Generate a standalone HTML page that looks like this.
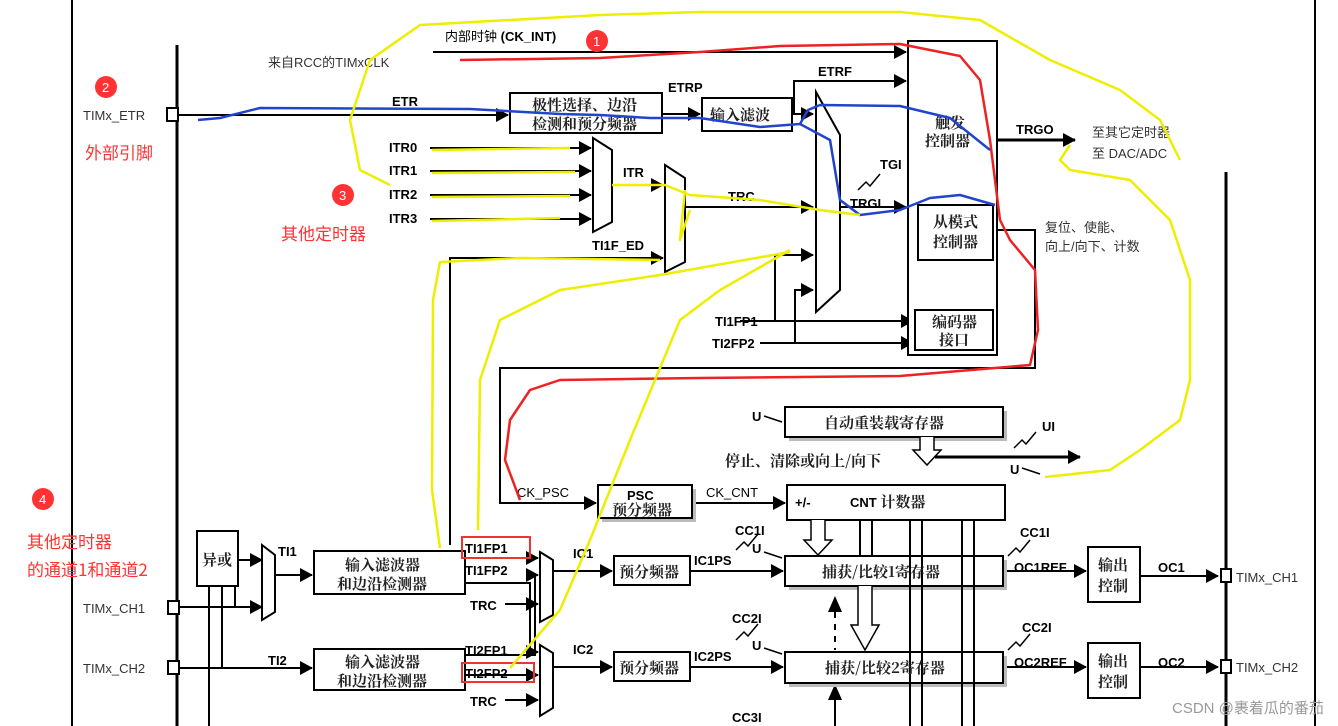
<!DOCTYPE html>
<html><head><meta charset="utf-8"><style>
html,body{margin:0;padding:0;background:#fff;}
svg{display:block;font-family:"Liberation Sans","Noto Sans CJK SC",sans-serif;}
.b{font-weight:bold;font-size:13px;}
.n{font-size:13px;}
.c{font-family:"Noto Serif CJK SC","Noto Sans CJK SC",serif;font-size:15px;font-weight:bold;fill:#222;}
.r{fill:#f33;font-family:"Noto Sans CJK SC",sans-serif;font-size:17px;}
</style></head><body>
<svg width="1338" height="726" viewBox="0 0 1338 726" xmlns="http://www.w3.org/2000/svg">
<defs>
<marker id="a" markerWidth="14" markerHeight="14" refX="12" refY="7" orient="auto" markerUnits="userSpaceOnUse"><path d="M0,0 L13,7 L0,14 z" fill="#000"/></marker>
</defs>
<g stroke="#000" fill="none">
<line x1="72" y1="0" x2="72" y2="726" stroke-width="2"/>
<line x1="177" y1="45" x2="177" y2="726" stroke-width="3"/>
<line x1="1226" y1="172" x2="1226" y2="726" stroke-width="3"/>
<line x1="1315" y1="0" x2="1315" y2="726" stroke-width="2"/>
<g stroke-width="2">
<line x1="433" y1="52" x2="906" y2="52" marker-end="url(#a)"/>
<line x1="178" y1="115" x2="508" y2="115" marker-end="url(#a)"/>
<line x1="662" y1="114" x2="700" y2="114" marker-end="url(#a)"/>
<polyline points="792,114 794,114 794,81 906,81" marker-end="url(#a)"/>
<line x1="794" y1="114" x2="813" y2="114" marker-end="url(#a)"/>
<line x1="430" y1="148" x2="591" y2="148" marker-end="url(#a)"/>
<line x1="430" y1="171" x2="591" y2="171" marker-end="url(#a)"/>
<line x1="430" y1="195" x2="591" y2="195" marker-end="url(#a)"/>
<line x1="430" y1="219" x2="591" y2="219" marker-end="url(#a)"/>
<line x1="612" y1="185" x2="663" y2="185" marker-end="url(#a)"/>
<polyline points="450,545 450,258 663,258" marker-end="url(#a)"/>
<line x1="685" y1="207" x2="813" y2="207" marker-end="url(#a)"/>
<line x1="838" y1="207" x2="906" y2="207" marker-end="url(#a)"/>
<polyline points="775,321 775,255 813,255" marker-end="url(#a)"/>
<polyline points="795,343 795,290 813,290" marker-end="url(#a)"/>
<line x1="740" y1="321" x2="913" y2="321" marker-end="url(#a)"/>
<line x1="760" y1="343" x2="913" y2="343" marker-end="url(#a)"/>
<line x1="997" y1="140" x2="1075" y2="140" marker-end="url(#a)" stroke-width="3"/>
<polyline points="993,230 1035,230 1035,368 500,368 500,503 596,503" marker-end="url(#a)"/>
<line x1="692" y1="503" x2="785" y2="503" marker-end="url(#a)"/>
<line x1="935" y1="457" x2="1080" y2="457" marker-end="url(#a)" stroke-width="3"/>
<polyline points="238,560 262,560" marker-end="url(#a)"/>
<line x1="178" y1="607" x2="262" y2="607" marker-end="url(#a)"/>
<line x1="178" y1="668" x2="312" y2="668" marker-end="url(#a)"/>
<line x1="209" y1="586" x2="209" y2="726"/><line x1="222" y1="586" x2="222" y2="668"/><line x1="235" y1="586" x2="235" y2="607"/>
<line x1="275" y1="575" x2="312" y2="575" marker-end="url(#a)"/>
<line x1="465" y1="558" x2="538" y2="558" marker-end="url(#a)"/>
<polyline points="465,583 530,583 530,652 538,652" marker-end="url(#a)"/>
<polyline points="505,604 538,604" marker-end="url(#a)"/>
<polyline points="465,655 535,655 535,575 538,575" marker-end="url(#a)"/>
<line x1="465" y1="675" x2="538" y2="675" marker-end="url(#a)"/>
<line x1="505" y1="700" x2="538" y2="700" marker-end="url(#a)"/>
<line x1="553" y1="571" x2="612" y2="571" marker-end="url(#a)"/>
<line x1="553" y1="667" x2="612" y2="667" marker-end="url(#a)"/>
<line x1="690" y1="571" x2="783" y2="571" marker-end="url(#a)"/>
<line x1="690" y1="667" x2="783" y2="667" marker-end="url(#a)"/>
<line x1="1003" y1="571" x2="1086" y2="571" marker-end="url(#a)"/>
<line x1="1003" y1="667" x2="1086" y2="667" marker-end="url(#a)"/>
<line x1="1140" y1="576" x2="1218" y2="576" marker-end="url(#a)"/>
<line x1="1140" y1="667" x2="1218" y2="667" marker-end="url(#a)"/>
<line x1="835" y1="612" x2="835" y2="650" stroke-dasharray="6,6"/>
<line x1="835" y1="726" x2="835" y2="700"/>
</g>
<g fill="#000" stroke="none">
<path d="M828,612 L835,596 L842,612 z"/><path d="M828,700 L835,684 L842,700 z"/>
</g>
<g stroke-width="2" fill="#fff">
<rect x="510" y="93" width="152" height="40"/>
<rect x="702" y="98" width="90" height="33"/>
<polygon points="816,92 840,135 840,290 816,312"/>
<polygon points="593,138 612,150 612,222 593,232"/>
<polygon points="665,165 685,178 685,262 665,272"/>
<rect x="908" y="41" width="89" height="314"/>
<rect x="918" y="205" width="75" height="55"/>
<rect x="915" y="310" width="78" height="40"/>
<rect x="167" y="108" width="11" height="13"/>
<rect x="168" y="601" width="11" height="13"/>
<rect x="168" y="661" width="11" height="13"/>
<rect x="1221" y="569" width="10" height="13"/>
<rect x="1221" y="660" width="10" height="13"/>
<rect x="197" y="531" width="41" height="55"/>
<polygon points="262,545 275,555 275,612 262,620"/>
<polygon points="540,552 553,560 553,615 540,622"/>
<polygon points="540,645 553,653 553,708 540,716"/>
<rect x="314" y="551" width="151" height="43"/>
<rect x="314" y="649" width="151" height="41"/>
<rect x="1088" y="547" width="52" height="55"/>
<rect x="1088" y="643" width="52" height="55"/>
<rect x="614" y="556" width="76" height="29"/>
<rect x="614" y="652" width="76" height="29"/>
</g>
<g fill="#bbb" stroke="none">
<rect x="789" y="411" width="218" height="30"/><rect x="602" y="489" width="94" height="33"/>
<rect x="789" y="560" width="218" height="30"/><rect x="789" y="656" width="218" height="31"/>
</g>
<g stroke-width="2" fill="#fff">
<rect x="785" y="407" width="218" height="30"/>
<rect x="787" y="485" width="218" height="35"/>
<rect x="598" y="485" width="94" height="33"/>
<rect x="785" y="556" width="218" height="30"/>
<rect x="785" y="652" width="218" height="31"/>
<path d="M920,437 V450 H913 L927,465 L941,450 H934 V437" stroke-width="1.5"/>
<path d="M811,520 V540 H804 L818,555 L832,540 H825 V520" stroke-width="1.5"/>
<path d="M858,586 V625 H851 L865,650 L879,625 H872 V586" stroke-width="1.5"/>
</g>
<g stroke-width="2">
<line x1="860" y1="520" x2="860" y2="556"/><line x1="872" y1="520" x2="872" y2="556"/>
<line x1="910" y1="520" x2="910" y2="726"/><line x1="922" y1="520" x2="922" y2="726"/>
<line x1="962" y1="520" x2="962" y2="726"/><line x1="974" y1="520" x2="974" y2="726"/>
</g>
<g stroke-width="1.5">
<polyline points="858,190 866,182 870,186 880,174"/>
<polyline points="1014,448 1022,440 1026,444 1036,432"/>
<polyline points="736,550 744,542 748,546 758,534"/>
<polyline points="736,640 744,632 748,636 758,624"/>
<polyline points="1008,556 1016,548 1020,552 1030,540"/>
<polyline points="1008,650 1016,642 1020,646 1030,634"/>
<line x1="764" y1="416" x2="782" y2="422"/><line x1="764" y1="552" x2="782" y2="558"/><line x1="764" y1="648" x2="782" y2="654"/><line x1="1022" y1="468" x2="1040" y2="474"/>
</g>
<rect x="462" y="537" width="68" height="21" stroke="#e33" stroke-width="2"/>
<rect x="462" y="663" width="72" height="19" stroke="#e33" stroke-width="2"/>
</g>
<g fill="#000">
<text x="445" y="41" class="n">内部时钟 <tspan class="b">(CK_INT)</tspan></text>
<text x="268" y="67" class="n" fill="#333">来自RCC的TIMxCLK</text>
<text x="83" y="120" class="n" fill="#333">TIMx_ETR</text>
<text x="392" y="106" class="b" font-size="12">ETR</text>
<text x="532" y="110" class="c">极性选择、边沿</text>
<text x="532" y="129" class="c">检测和预分频器</text>
<text x="668" y="92" class="b" font-size="12">ETRP</text>
<text x="710" y="120" class="c">输入滤波</text>
<text x="818" y="76" class="b" font-size="12">ETRF</text>
<text x="389" y="152" class="b" font-size="12">ITR0</text>
<text x="389" y="175" class="b" font-size="12">ITR1</text>
<text x="389" y="199" class="b" font-size="12">ITR2</text>
<text x="389" y="223" class="b" font-size="12">ITR3</text>
<text x="623" y="177" class="b" font-size="12">ITR</text>
<text x="592" y="250" class="b" font-size="11">TI1F_ED</text>
<text x="728" y="201" class="b" font-size="12">TRC</text>
<text x="880" y="169" class="b" font-size="12">TGI</text>
<text x="850" y="208" class="b" font-size="12">TRGI</text>
<text x="715" y="326" class="b" font-size="12">TI1FP1</text>
<text x="712" y="348" class="b" font-size="12">TI2FP2</text>
<text x="935" y="128" class="c">触发</text><text x="925" y="146" class="c">控制器</text>
<text x="933" y="227" class="c">从模式</text><text x="933" y="247" class="c">控制器</text>
<text x="932" y="327" class="c">编码器</text><text x="939" y="345" class="c">接口</text>
<text x="1016" y="134" class="b" font-size="12">TRGO</text>
<text x="1092" y="137" class="n" fill="#333">至其它定时器</text>
<text x="1092" y="158" class="n" fill="#333">至 DAC/ADC</text>
<text x="1045" y="232" class="n" fill="#333">复位、使能、</text>
<text x="1045" y="251" class="n" fill="#333">向上/向下、计数</text>
<text x="752" y="421" class="b" font-size="12">U</text>
<text x="824" y="428" class="c">自动重装载寄存器</text>
<text x="1042" y="431" class="b" font-size="12">UI</text>
<text x="1010" y="474" class="b" font-size="12">U</text>
<text x="725" y="466" class="c" font-size="14">停止、清除或向上/向下</text>
<text x="517" y="497" class="n">CK_PSC</text>
<text x="627" y="500" class="b" font-size="14">PSC</text><text x="612" y="515" class="c">预分频器</text>
<text x="706" y="497" class="n">CK_CNT</text>
<text x="795" y="507" class="b">+/-</text>
<text x="850" y="507" class="b" font-size="15">CNT <tspan class="c">计数器</tspan></text>
<text x="202" y="565" class="c">异或</text>
<text x="278" y="556" class="b" font-size="14">TI1</text>
<text x="268" y="665" class="b" font-size="14">TI2</text>
<text x="83" y="613" class="n" fill="#333">TIMx_CH1</text>
<text x="83" y="673" class="n" fill="#333">TIMx_CH2</text>
<text x="345" y="570" class="c">输入滤波器</text><text x="337" y="589" class="c">和边沿检测器</text>
<text x="345" y="667" class="c">输入滤波器</text><text x="337" y="686" class="c">和边沿检测器</text>
<text x="465" y="553" class="b" font-size="14">TI1FP1</text>
<text x="465" y="575" class="b" font-size="14">TI1FP2</text>
<text x="470" y="610" class="b" font-size="14">TRC</text>
<text x="465" y="655" class="b" font-size="14">TI2FP1</text>
<text x="465" y="678" class="b" font-size="14">TI2FP2</text>
<text x="470" y="706" class="b" font-size="14">TRC</text>
<text x="573" y="558" class="b" font-size="14">IC1</text>
<text x="573" y="654" class="b" font-size="14">IC2</text>
<text x="619" y="577" class="c">预分频器</text>
<text x="619" y="673" class="c">预分频器</text>
<text x="694" y="565" class="b" font-size="15">IC1PS</text>
<text x="694" y="661" class="b" font-size="15">IC2PS</text>
<text x="735" y="535" class="b" font-size="11">CC1I</text>
<text x="732" y="623" class="b" font-size="11">CC2I</text>
<text x="732" y="722" class="b" font-size="11">CC3I</text>
<text x="752" y="553" class="b" font-size="11">U</text>
<text x="752" y="650" class="b" font-size="11">U</text>
<text x="822" y="577" class="c">捕获/比较1寄存器</text>
<text x="825" y="673" class="c">捕获/比较2寄存器</text>
<text x="1020" y="537" class="b" font-size="11">CC1I</text>
<text x="1022" y="632" class="b" font-size="11">CC2I</text>
<text x="1014" y="572" class="b" font-size="11">OC1REF</text>
<text x="1014" y="667" class="b" font-size="11">OC2REF</text>
<text x="1098" y="570" class="c">输出</text><text x="1098" y="591" class="c">控制</text>
<text x="1098" y="666" class="c">输出</text><text x="1098" y="687" class="c">控制</text>
<text x="1158" y="572" class="b" font-size="12">OC1</text>
<text x="1158" y="667" class="b" font-size="12">OC2</text>
<text x="1236" y="582" class="n" fill="#333">TIMx_CH1</text>
<text x="1236" y="672" class="n" fill="#333">TIMx_CH2</text>
<text x="1172" y="713" font-size="15" fill="#999">CSDN @裹着瓜的番茄</text>
</g>
<g fill="#f33"><circle cx="597" cy="41" r="11"/><circle cx="106" cy="87" r="11"/><circle cx="343" cy="195" r="11"/><circle cx="43" cy="499" r="11"/></g>
<g fill="#fff" font-size="13"><text x="593" y="46">1</text><text x="102" y="92">2</text><text x="339" y="200">3</text><text x="39" y="504">4</text></g>
<text x="85" y="159" class="r">外部引脚</text>
<text x="281" y="240" class="r">其他定时器</text>
<text x="27" y="548" class="r">其他定时器</text>
<text x="27" y="576" class="r">的通道1和通道2</text>
<g fill="none" stroke-width="2.5" stroke-linejoin="round">
<path d="M460,60 L600,58 L700,52 L780,46 L900,44 L960,56 L980,80 L990,140 L1000,220 L1010,240 L1035,270 L1038,330 L1030,365 L900,376 L700,378 L560,380 L530,390 L510,420 L505,460 L520,500" stroke="#e22"/>
<path d="M198,120 L220,118 L260,108 L470,109 L560,114 L600,115 L650,118 L700,118 L760,127 L800,124 L808,110 L820,105 L900,106 L950,118 L990,150" stroke="#24c"/>
<path d="M800,124 L830,140 L840,200 L860,215 L900,210 L930,198 L960,195 L995,205" stroke="#24c"/>
<path d="M390,185 L360,170 L350,120 L370,60 L420,25 L600,15 L700,12 L900,12 L980,20 L1050,60 L1120,90 L1160,120 L1180,160" stroke="#ee0"/>
<path d="M1070,145 L1060,160 L1070,170 L1130,180 L1170,220 L1190,280 L1190,380 L1180,420 L1140,450 L1110,470 L1045,477" stroke="#ee0"/>
<path d="M432,150 L570,148 M432,173 L575,172 M432,197 L570,196 M432,221 L560,218" stroke="#ee0"/>
<path d="M612,185 L665,185 L690,195 L760,200 L820,210 L860,215" stroke="#ee0"/>
<path d="M440,548 L432,490 L433,300 L440,262 L520,258 L660,260" stroke="#ee0"/>
<path d="M478,530 L480,380 L500,320 L560,290 L660,275 L790,252" stroke="#ee0"/>
<path d="M510,668 L560,610 L590,540 L630,440 L680,320 L720,290 L790,250" stroke="#ee0"/>
<path d="M685,190 L680,240 L690,210" stroke="#ee0"/>
</g>
</svg>
</body></html>
